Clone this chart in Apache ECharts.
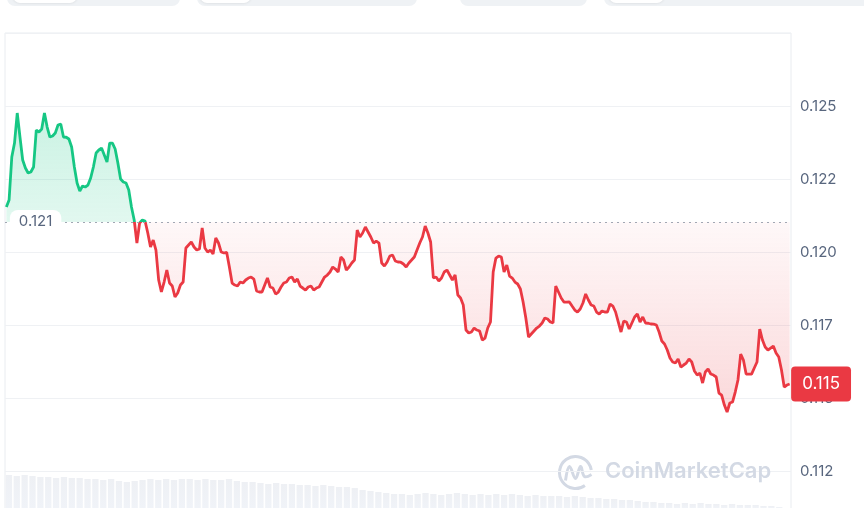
<!DOCTYPE html>
<html>
<head>
<meta charset="utf-8">
<script src="https://cdn.jsdelivr.net/npm/echarts@6/dist/echarts.min.js"></script>
<style>
    html, body { margin: 0; padding: 0; background: #fff; }
    #chart { width: 864px; height: 508px; }
</style>
</head>
<body>
<div id="chart"></div>
<script>
// 开盘价(虚线基准)
const openPrice = 0.12103;
// 价格走势
const prices = [
    0.121541, 0.121780, 0.123253, 0.123732, 0.124760, 0.123938, 0.123150, 0.122876, 0.122705, 0.122739,
    0.122910, 0.124178, 0.124109, 0.124212, 0.124760, 0.124280, 0.123938, 0.123972, 0.124075, 0.124349,
    0.124383, 0.123938, 0.123930, 0.123869, 0.123595, 0.122910, 0.122363, 0.122089, 0.122260, 0.122226,
    0.122294, 0.122534, 0.122910, 0.123390, 0.123493, 0.123561, 0.123321, 0.123082, 0.123732, 0.123730,
    0.123527, 0.123047, 0.122499, 0.122397, 0.122363, 0.122123, 0.121541, 0.121095, 0.120308, 0.120993,
    0.121095, 0.121060, 0.120650, 0.120171, 0.120410, 0.120068, 0.119041, 0.118630, 0.118972, 0.119383,
    0.118938, 0.118835, 0.118458, 0.118595, 0.118869, 0.118972, 0.120136, 0.120239, 0.120342, 0.120171,
    0.120068, 0.120102, 0.120821,
    0.120136, 0.119999, 0.120068, 0.119931, 0.120479, 0.120308, 0.119999, 0.119965, 0.119990, 0.119486,
    0.118938, 0.118869, 0.118835, 0.118972, 0.118938, 0.119041, 0.119109, 0.119143, 0.119075, 0.118664,
    0.118630, 0.118630, 0.118869, 0.119109, 0.118801, 0.118767, 0.118561, 0.118630, 0.118801, 0.118938,
    0.118972, 0.119109, 0.119143, 0.118972, 0.119075, 0.118835, 0.118767, 0.118698, 0.118801, 0.118835,
    0.118698, 0.118767, 0.118801, 0.118972, 0.119143, 0.119212, 0.119315, 0.119486, 0.119417, 0.119315,
    0.119828, 0.119725, 0.119383, 0.119486, 0.119623, 0.119725, 0.120753, 0.120513, 0.120650, 0.120856,
    0.120684, 0.120513, 0.120308, 0.120376, 0.120308, 0.119623, 0.119520, 0.119657, 0.119862, 0.119897,
    0.119691, 0.119657, 0.119650, 0.119588, 0.119486,
    0.119623, 0.119725, 0.119828, 0.120068, 0.120308, 0.120513, 0.120890, 0.120650, 0.120342, 0.119109,
    0.119143, 0.119006, 0.119109, 0.119315, 0.119383, 0.119212, 0.119041, 0.119212, 0.118527, 0.118424,
    0.118184, 0.117328, 0.117225, 0.117260, 0.117397, 0.117328, 0.117294, 0.116986, 0.117054, 0.117397,
    0.117602, 0.119315, 0.119794, 0.119862, 0.119828, 0.119315, 0.119554, 0.119178, 0.119109, 0.118972,
    0.118904, 0.118732, 0.118287, 0.117739, 0.117088, 0.117191, 0.117294, 0.117397, 0.117465, 0.117568,
    0.117739, 0.117705, 0.117602, 0.117568, 0.118835, 0.118630, 0.118424, 0.118287, 0.118280, 0.118290,
    0.118150, 0.118013, 0.117945, 0.118047, 0.118253, 0.118561, 0.118356, 0.118184, 0.118150, 0.117945,
    0.117876, 0.117979, 0.117945, 0.117940, 0.118219,
    0.118150, 0.117945, 0.117602, 0.117260, 0.117636, 0.117602, 0.117362, 0.117568, 0.117773, 0.117876,
    0.117602, 0.117773, 0.117568, 0.117560, 0.117534, 0.117530, 0.117499, 0.117260, 0.116951, 0.116849,
    0.116643, 0.116369, 0.116232, 0.116198, 0.116335, 0.116061, 0.116130, 0.116198, 0.116335, 0.116232,
    0.115924, 0.115787, 0.115856, 0.115513, 0.115890, 0.115993, 0.115821, 0.115787, 0.115719, 0.115171,
    0.115102, 0.114760, 0.114520, 0.114828, 0.114862, 0.115205, 0.115616, 0.116506, 0.116301, 0.115821,
    0.115820, 0.115820, 0.116027, 0.116232, 0.117362, 0.116986, 0.116746, 0.116643, 0.116712, 0.116780,
    0.116541, 0.116404, 0.115958, 0.115376, 0.115445, 0.115479
];
// 成交量(底部柱)
const volumes = [
    33, 32, 33, 32, 31, 31, 30, 31, 30, 30,
    29, 29, 28, 29, 27, 26, 27, 28, 29, 28,
    29, 28, 29, 29, 28, 29, 28, 28, 29, 27,
    26, 26, 25, 24, 25, 24, 24, 23, 23, 22,
    23, 22, 21, 21, 20, 18, 17, 16, 15, 14,
    14, 13, 14, 15, 14, 13, 14, 15, 14, 13,
    14, 13, 14, 13, 14, 13, 12, 13, 12, 12,
    12, 11, 12, 11, 10, 10, 9, 9, 8, 8,
    7, 6, 6, 5, 5, 4, 5, 4, 5, 4,
    4, 3, 4, 3, 3, 3, 2, 2, 1, 0
];
// 纵轴刻度
const yMin = 0.110;
const yMax = 0.1275;
const yStep = 0.0025;

const green = "#16c784";
const red = "#ea3943";
const fmt = v => (Math.floor(v * 1000 + 1e-6) / 1000).toFixed(3);

const upper = prices.map(v => Math.max(v, openPrice));
const lower = prices.map(v => Math.min(v, openPrice));
const last = prices.length - 1;

const chart = echarts.init(document.getElementById("chart"));
chart.setOption({
    animation: false,
    textStyle: {fontFamily: "Inter"},
    grid: [
        {left: 5, right: 73, top: 33, height: 511, outerBoundsMode: "none", show: true, borderColor: "#e9ecf0", borderWidth: 1},
        {left: 5, right: 73, top: 462, height: 46, outerBoundsMode: "none"}
    ],
    xAxis: [
        {type: "category", gridIndex: 0, boundaryGap: true, show: false},
        {type: "category", gridIndex: 1, boundaryGap: true, show: false}
    ],
    yAxis: [
        {
            type: "value",
            gridIndex: 0,
            position: "right",
            min: yMin,
            max: yMax,
            interval: yStep,
            axisLine: {show: false},
            axisTick: {show: false},
            splitLine: {lineStyle: {color: "#eff1f4"}},
            axisLabel: {
                formatter: fmt,
                color: "#58667e",
                fontSize: 15,
                margin: 9,
                showMaxLabel: false
            }
        },
        {type: "value", gridIndex: 1, show: false, min: 0, max: 46}
    ],
    visualMap: {
        show: false,
        type: "piecewise",
        seriesIndex: 2,
        dimension: 1,
        pieces: [
            {gt: openPrice, lte: 1, color: green},
            {gt: 0, lte: openPrice, color: red}
        ]
    },
    graphic: [
        {type: "rect", shape: {x: 7, y: -12, width: 173, height: 18, r: 8}, style: {fill: "#eff2f5"}},
        {type: "rect", shape: {x: 13, y: -12, width: 64, height: 15, r: 7}, style: {fill: "#fff", shadowBlur: 3, shadowColor: "rgba(0,0,0,0.12)"}},
        {type: "rect", shape: {x: 197, y: -12, width: 220, height: 18, r: 8}, style: {fill: "#eff2f5"}},
        {type: "rect", shape: {x: 200, y: -12, width: 51, height: 15, r: 7}, style: {fill: "#fff", shadowBlur: 3, shadowColor: "rgba(0,0,0,0.12)"}},
        {type: "rect", shape: {x: 460, y: -12, width: 127, height: 18, r: 8}, style: {fill: "#eff2f5"}},
        {type: "rect", shape: {x: 604, y: -12, width: 270, height: 18, r: 8}, style: {fill: "#eff2f5"}},
        {type: "rect", shape: {x: 609, y: -12, width: 55, height: 15, r: 7}, style: {fill: "#fff", shadowBlur: 3, shadowColor: "rgba(0,0,0,0.12)"}},
        {
            type: "group",
            left: 557,
            top: 454,
            z: 10,
            children: [
                {type: "arc", shape: {cx: 19, cy: 19, r: 16, startAngle: Math.PI * 0.3, endAngle: Math.PI * 1.95}, style: {stroke: "#d3d9e4", lineWidth: 3, fill: null}},
                {type: "polyline", shape: {points: [[9, 27], [13, 13], [19, 25], [24, 13], [28, 23], [35, 21]], smooth: 0.4}, style: {stroke: "#d3d9e4", lineWidth: 3, fill: null}}
            ]
        },
        {
            type: "text",
            left: 605,
            top: 460,
            z: 10,
            style: {text: "CoinMarketCap", fill: "#d3d9e4", font: "600 22px Inter"}
        }
    ],
    series: [
        {
            type: "line",
            data: upper,
            symbol: "none",
            silent: true,
            lineStyle: {width: 0},
            areaStyle: {
                origin: openPrice,
                color: new echarts.graphic.LinearGradient(0, 0, 0, 1, [
                    {offset: 0, color: "rgba(22,199,132,0.32)"},
                    {offset: 1, color: "rgba(22,199,132,0.18)"}
                ])
            },
            z: 1
        },
        {
            type: "line",
            data: lower,
            symbol: "none",
            silent: true,
            lineStyle: {width: 0},
            areaStyle: {
                origin: openPrice,
                color: new echarts.graphic.LinearGradient(0, 0, 0, 1, [
                    {offset: 0, color: "rgba(234,57,67,0.05)"},
                    {offset: 1, color: "rgba(234,57,67,0.28)"}
                ])
            },
            z: 1
        },
        {
            type: "line",
            data: prices,
            symbol: "none",
            lineStyle: {width: 2.8},
            z: 3,
            markLine: {
                silent: true,
                symbol: "none",
                precision: 6,
                label: {show: false},
                lineStyle: {type: [2, 4], color: "#a1a7b3", width: 1.2},
                data: [{yAxis: openPrice}]
            },
            markPoint: {
                silent: true,
                symbol: "circle",
                symbolSize: 1,
                itemStyle: {color: "rgba(0,0,0,0)"},
                data: [
                    {
                        coord: [0, openPrice],
                        label: {
                            show: true,
                            position: "right",
                            distance: 3,
                            formatter: fmt(openPrice),
                            backgroundColor: "#fff",
                            borderRadius: 8,
                            padding: [5, 9, 4, 9],
                            color: "#58667e",
                            fontSize: 15
                        }
                    },
                    {
                        coord: [last, prices[last]],
                        label: {
                            show: true,
                            position: "right",
                            distance: 1,
                            formatter: fmt(prices[last]),
                            backgroundColor: red,
                            borderRadius: 4,
                            padding: [9, 11, 9, 11],
                            color: "#fff",
                            fontSize: 17
                        }
                    }
                ]
            }
        },
        {
            type: "bar",
            xAxisIndex: 1,
            yAxisIndex: 1,
            data: volumes,
            silent: true,
            barCategoryGap: "20%",
            itemStyle: {
                color: new echarts.graphic.LinearGradient(0, 0, 0, 1, [
                    {offset: 0, color: "#eef0f4"},
                    {offset: 1, color: "#f0f3f8"}
                ])
            }
        }
    ]
});
</script>
</body>
</html>
